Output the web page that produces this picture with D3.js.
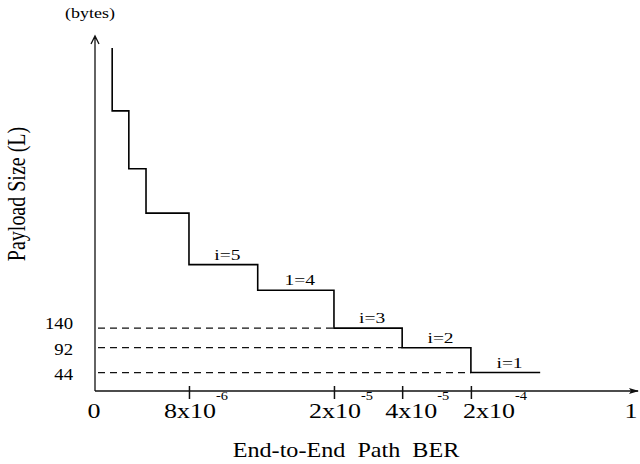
<!DOCTYPE html>
<html>
<head>
<meta charset="utf-8">
<script src="https://cdn.jsdelivr.net/npm/d3@7"></script>
<style>
    body { margin: 0; background: #fff; }
    svg { display: block; font-family: "Liberation Serif", "Times New Roman", serif; }
</style>
</head>
<body>
<div id="chart"></div>
<script>
const width = 640;
const height = 464;

// schematic axis units (0..100), both axes
const berTicks = [17.5, 44.5, 57.2, 70.0];
const berMantissa = ['8x10', '2x10', '4x10', '2x10'];
const berExponent = ['-6', '-5', '-5', '-4'];
const berEnds = ['0', '1'];

const payloadLabels = ['140', '92', '44'];
const payloadLevels = [17.7, 12.2, 5.2];

const stepBreaks = [3.2, 6.3, 9.5, 17.5, 30.3, 44.5, 57.2, 70.0, 82.9];
const stepLevels = [78.9, 62.6, 50.1, 35.6, 28.4, 17.7, 12.2, 5.2];
const stepTop = 96.6;
const segmentNames = ['', '', '', 'i=5', '1=4', 'i=3', 'i=2', 'i=1'];

const svg = d3.select('#chart')
    .append('svg')
    .attr('width', width)
    .attr('height', height);

const x = d3.scaleLinear().domain([0, 100]).range([95, 632]);
const y = d3.scaleLinear().domain([0, 100]).range([391, 36]);

// text is a bit wider than tall in the original, stretch it
const stretched = (sel, px, py, sx, extra) => sel
    .attr('transform', `translate(${px},${py}) scale(${sx},1)${extra || ''}`);

// AXES

svg.append('path')
    .attr('d', `M${x(0)} ${y(0)} V${y(100)} M${x(0) - 4} ${y(100) + 8} L${x(0)} ${y(100)} L${x(0) + 4} ${y(100) + 8}`)
    .attr('fill', 'none')
    .attr('stroke', '#111')
    .attr('stroke-width', 1.3);

svg.append('path')
    .attr('d', `M${x(0)} ${y(0)} H${x(100) + 6}`)
    .attr('stroke', '#111')
    .attr('stroke-width', 1.3);

svg.append('path')
    .attr('d', `M${x(100) + 7} ${y(0)} l-10 -3 l2 3 l-2 3 z`)
    .attr('fill', '#111');

const xAxis = svg.append('g')
    .attr('transform', `translate(0,${y(0)})`)
    .call(d3.axisBottom(x).tickValues(berTicks).tickFormat('').tickSize(8).tickSizeOuter(0));

xAxis.select('.domain').remove();
xAxis.selectAll('.tick line')
    .attr('y1', -5)
    .attr('stroke', '#111')
    .attr('stroke-width', 1.5);

// crowded labels on the right are pushed to the right of their ticks
const labelShift = [1, 1, 9, 18];

berMantissa.forEach((t, i) => {
    const cx = x(berTicks[i]) + labelShift[i];
    stretched(svg.append('text'), cx, 418, 1.3)
        .attr('text-anchor', 'middle')
        .attr('font-size', 20)
        .text(t);
    stretched(svg.append('text'), cx + 26, 400, 1.2)
        .attr('font-size', 12)
        .text(berExponent[i]);
});

berEnds.forEach((t, i) => {
    stretched(svg.append('text'), x(i * 100) - 1, 418, 1.3)
        .attr('text-anchor', 'middle')
        .attr('font-size', 20)
        .text(t);
});

stretched(svg.append('text'), 346, 457, 1.15)
    .attr('text-anchor', 'middle')
    .attr('font-size', 21)
    .style('white-space', 'pre')
    .text('End-to-End  Path  BER');

stretched(svg.append('text'), 25, 194, 1.25, ' rotate(-90)')
    .attr('text-anchor', 'middle')
    .attr('font-size', 20)
    .text('Payload Size (L)');

stretched(svg.append('text'), 90, 18, 1.2)
    .attr('text-anchor', 'middle')
    .attr('font-size', 15)
    .text('(bytes)');

// PAYLOAD LEVELS

payloadLevels.forEach((lv, i) => {
    const k = stepLevels.indexOf(lv);
    svg.append('line')
        .attr('x1', x(0) + 3)
        .attr('x2', x(stepBreaks[k]))
        .attr('y1', y(lv))
        .attr('y2', y(lv))
        .attr('stroke', '#111')
        .attr('stroke-width', 1.3)
        .attr('stroke-dasharray', '7,5');
    stretched(svg.append('text'), 73, y(lv) + (i === 0 ? 1 : 7), 1.17)
        .attr('text-anchor', 'end')
        .attr('font-size', 16)
        .text(payloadLabels[i]);
});

// STEP CURVE

const stepPoints = [[stepBreaks[0], stepTop]]
    .concat(stepLevels.map((lv, k) => [stepBreaks[k], lv]))
    .concat([[stepBreaks[stepBreaks.length - 1], stepLevels[stepLevels.length - 1]]]);

const line = d3.line()
    .x(d => x(d[0]))
    .y(d => y(d[1]))
    .curve(d3.curveStepAfter);

svg.append('path')
    .datum(stepPoints)
    .attr('d', line)
    .attr('fill', 'none')
    .attr('stroke', '#000')
    .attr('stroke-width', 1.6);

segmentNames.forEach((name, k) => {
    if (!name) {
        return;
    }
    const cx = (x(stepBreaks[k]) + x(stepBreaks[k + 1])) / 2 + 4;
    stretched(svg.append('text'), cx, y(stepLevels[k]) - 5, 1.3)
        .attr('text-anchor', 'middle')
        .attr('font-size', 15)
        .text(name);
});
</script>
</body>
</html>
